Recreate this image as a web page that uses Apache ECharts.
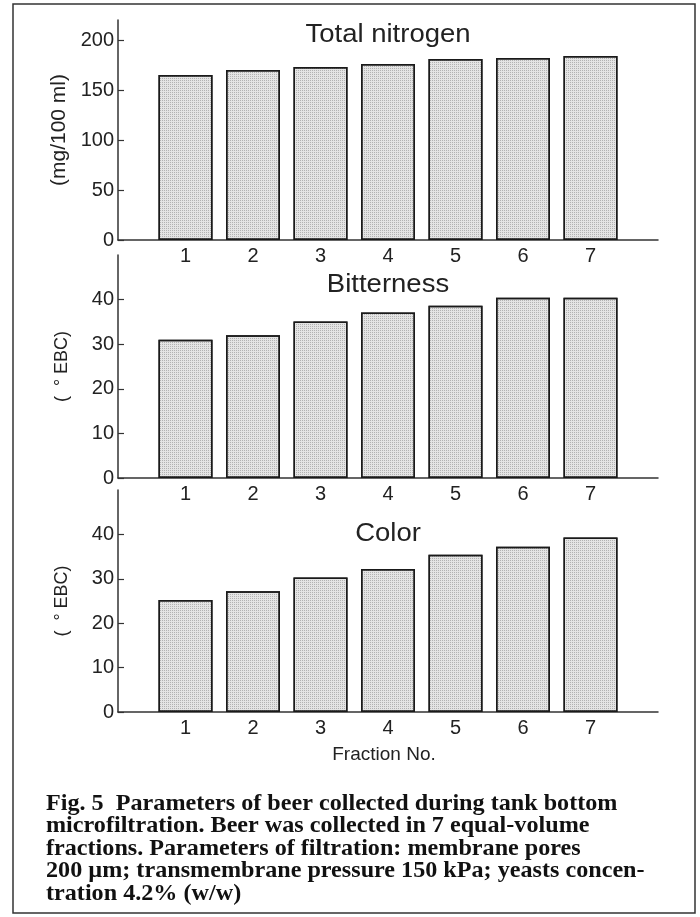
<!DOCTYPE html>
<html>
<head>
<meta charset="utf-8">
<script src="https://cdn.jsdelivr.net/npm/echarts@6/dist/echarts.min.js"></script>
<style>
html,body{margin:0;padding:0;background:#fff;}
#chart{width:700px;height:917px;}
</style>
</head>
<body>
<div id="chart"></div>
<script>
// ---- data ----
const fractions = [1, 2, 3, 4, 5, 6, 7];
const totalNitrogen = [165, 170, 173, 176, 181, 182, 184];
const bitterness = [31.0, 32.0, 35.1, 37.1, 38.6, 40.4, 40.4];
const color = [25.2, 27.2, 30.3, 32.2, 35.4, 37.2, 39.3];
const nitrogenTicks = [0, 50, 100, 150, 200];
const ebcTicks = [0, 10, 20, 30, 40];
const panelTitles = ['Total nitrogen', 'Bitterness', 'Color'];
const yNames = ['(mg/100 ml)', '(  \u00B0 EBC)', '(  \u00B0 EBC)'];
const xName = 'Fraction No.';
const captionLines = [
  'Fig. 5  Parameters of beer collected during tank bottom',
  'microfiltration. Beer was collected in 7 equal-volume',
  'fractions. Parameters of filtration: membrane pores',
  '200 \u00B5m; transmembrane pressure 150 kPa; yeasts concen-',
  'tration 4.2% (w/w)'
];

const SANS = '"Liberation Sans", Arial, Helvetica, sans-serif';
const SERIF = '"Liberation Serif", "Times New Roman", serif';
const INK = '#222';

const grids = [
  {left: 118, top: 20, width: 540, height: 220},
  {left: 118, top: 255, width: 540, height: 223},
  {left: 118, top: 490, width: 540, height: 222}
];
const yMax = [220, 50, 50];
const yTicks = [nitrogenTicks, ebcTicks, ebcTicks];
const seriesVals = [totalNitrogen, bitterness, color];
const yNameSize = [21, 18, 18];

const chart = echarts.init(document.getElementById('chart'), null, {renderer: 'canvas'});

const xAxes = grids.map((g, i) => ({
  type: 'value', gridIndex: i, min: 0, max: 8,
  splitLine: {show: false},
  axisTick: {show: false},
  axisLine: {show: true, lineStyle: {color: '#333', width: 1.5}},
  axisLabel: {
    customValues: fractions, margin: 6,
    fontFamily: SANS, fontSize: 20, color: INK
  }
}));

const yAxes = grids.map((g, i) => ({
  type: 'value', gridIndex: i, min: 0, max: yMax[i],
  splitLine: {show: false},
  axisLine: {show: true, onZero: false, lineStyle: {color: '#333', width: 1.5}},
  axisTick: {show: true, inside: true, length: 6, customValues: yTicks[i], lineStyle: {color: '#333', width: 1.2}},
  axisLabel: {customValues: yTicks[i], margin: 4, fontFamily: SANS, fontSize: 20, color: INK},
  name: yNames[i], nameLocation: 'middle', nameGap: i === 0 ? 46 : 47, nameRotate: 90,
  nameTextStyle: {fontFamily: SANS, fontSize: yNameSize[i], color: INK}
}));

const series = seriesVals.map((vals, i) => ({
  type: 'bar', xAxisIndex: i, yAxisIndex: i,
  barWidth: 54,
  data: fractions.map((f, k) => [f, vals[k]]),
  itemStyle: {
    color: '#e4e4e4', borderColor: '#1a1a1a', borderWidth: 1.5,
    decal: {symbol: 'rect', symbolSize: 1, dashArrayX: [1, 1], dashArrayY: [1, 1],
            color: 'rgba(0,0,0,0.22)', rotation: 0}
  },
  silent: true
}));

const titleY = [35, 285, 534];
const graphics = [
  {type: 'rect', shape: {x: 13, y: 4, width: 682, height: 909},
   style: {fill: 'none', stroke: '#333', lineWidth: 1.5}, silent: true}
];
panelTitles.forEach((t, i) => graphics.push({
  type: 'text', x: 388, y: titleY[i], scaleX: 1.1,
  style: {text: t, textAlign: 'center', textVerticalAlign: 'middle',
          font: '25px ' + SANS, fill: INK}
}));
graphics.push({
  type: 'text', x: 384, y: 755,
  style: {text: xName, textAlign: 'center', textVerticalAlign: 'middle',
          font: '19px ' + SANS, fill: INK}
});
captionLines.forEach((line, k) => graphics.push({
  type: 'text', x: 46, y: 804 + k * 22.5, scaleX: 1.05,
  style: {text: line, textAlign: 'left', textVerticalAlign: 'middle',
          font: 'bold 23px ' + SERIF, fill: '#111'}
}));

chart.setOption({
  animation: false,
  backgroundColor: '#fff',
  grid: grids.map(g => Object.assign({containLabel: false}, g)),
  xAxis: xAxes,
  yAxis: yAxes,
  series: series,
  graphic: graphics
});
</script>
</body>
</html>
